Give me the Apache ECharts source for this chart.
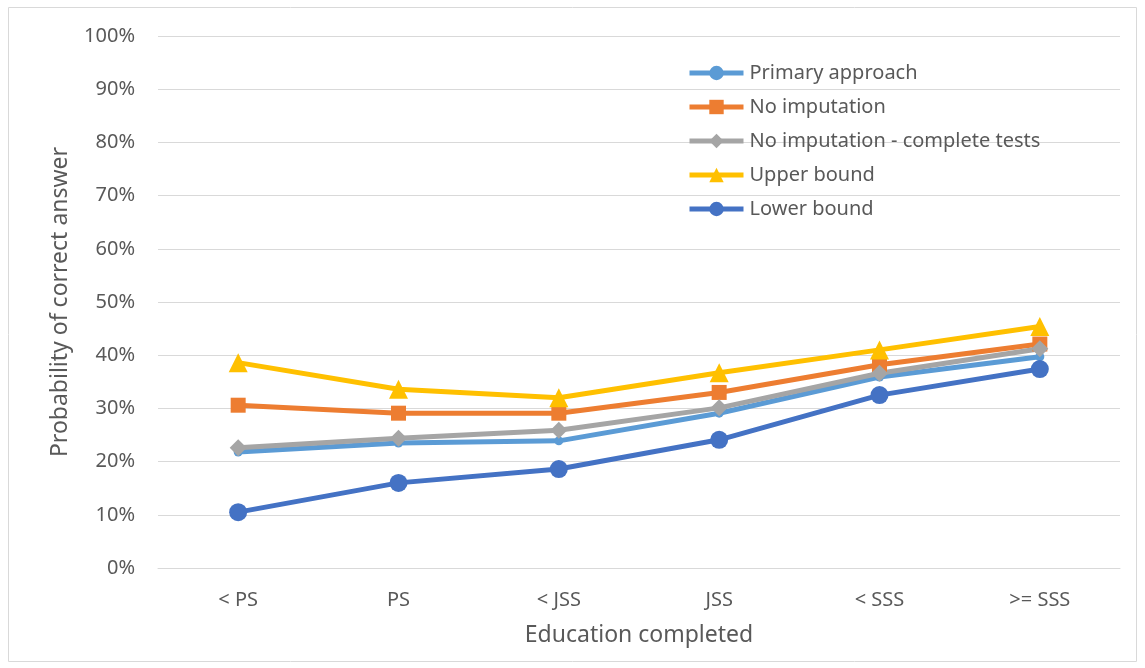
<!DOCTYPE html>
<html><head><meta charset="utf-8">
<script src="https://cdn.jsdelivr.net/npm/echarts@6/dist/echarts.min.js"></script>
<style>html,body{margin:0;padding:0;background:#fff}#c{width:1145px;height:668px}</style>
</head><body><div id="c"></div>
<script>
const categories = ['< PS', 'PS', '< JSS', 'JSS', '< SSS', '>= SSS'];
const primaryApproach = [21.8, 23.5, 23.9, 29.1, 35.9, 39.7];
const noImputation = [30.6, 29.1, 29.1, 33.0, 38.2, 42.1];
const noImputationComplete = [22.6, 24.4, 25.9, 30.1, 36.6, 41.2];
const upperBound = [38.6, 33.6, 32.0, 36.7, 41.0, 45.4];
const lowerBound = [10.5, 16.0, 18.6, 24.1, 32.5, 37.4];
const yTicks = [0, 10, 20, 30, 40, 50, 60, 70, 80, 90, 100];

const font = 'Noto Sans';
const chart = echarts.init(document.getElementById('c'));
function ser(name, data, color, symbol, size) {
  return {
    name, type: 'line', data, symbol, symbolSize: size,
    lineStyle: { color, width: 5 }, itemStyle: { color },
    emphasis: { disabled: true }, animation: false
  };
}
chart.setOption({
  animation: false,
  graphic: [{ type: 'rect', shape: { x: 8.5, y: 7.5, width: 1128, height: 654 }, style: { fill: 'none', stroke: '#d9d9d9', lineWidth: 1 }, silent: true }],
  grid: { left: 158, right: 25, top: 36, bottom: 100 },
  legend: {
    orient: 'vertical', left: 687, top: 61, padding: 0, itemWidth: 54, itemHeight: 18, itemGap: 10,
    lineStyle: { width: 5 },
    textStyle: { fontFamily: font, fontSize: 20, lineHeight: 24, color: '#595959', padding: [0, 0, 0, 1] },
    data: ['Primary approach', 'No imputation', 'No imputation - complete tests', 'Upper bound', 'Lower bound']
  },
  xAxis: {
    type: 'category', data: categories, boundaryGap: true,
    name: 'Education completed', nameLocation: 'middle', nameGap: 56,
    nameTextStyle: { fontFamily: font, fontSize: 23, color: '#595959' },
    axisLine: { lineStyle: { color: '#d9d9d9' } }, axisTick: { show: false },
    axisLabel: { fontFamily: font, fontSize: 20, color: '#595959', margin: 22 }
  },
  yAxis: {
    type: 'value', min: 0, max: 100, interval: 10,
    name: 'Probability of correct answer', nameLocation: 'middle', nameGap: 86,
    nameTextStyle: { fontFamily: font, fontSize: 23, color: '#595959' },
    axisLine: { show: false }, axisTick: { show: false },
    splitLine: { lineStyle: { color: '#d9d9d9', width: 1 } },
    axisLabel: { fontFamily: font, fontSize: 20, color: '#595959', margin: 23,
      formatter: v => yTicks.includes(v) ? v + '%' : '' }
  },
  series: [
    ser('Primary approach', primaryApproach, '#5B9BD5', 'circle', 9),
    ser('No imputation', noImputation, '#ED7D31', 'rect', 15),
    ser('No imputation - complete tests', noImputationComplete, '#A5A5A5', 'diamond', 17),
    ser('Upper bound', upperBound, '#FFC000', 'triangle', 19),
    ser('Lower bound', lowerBound, '#4472C4', 'circle', 18)
  ]
});
</script></body></html>
